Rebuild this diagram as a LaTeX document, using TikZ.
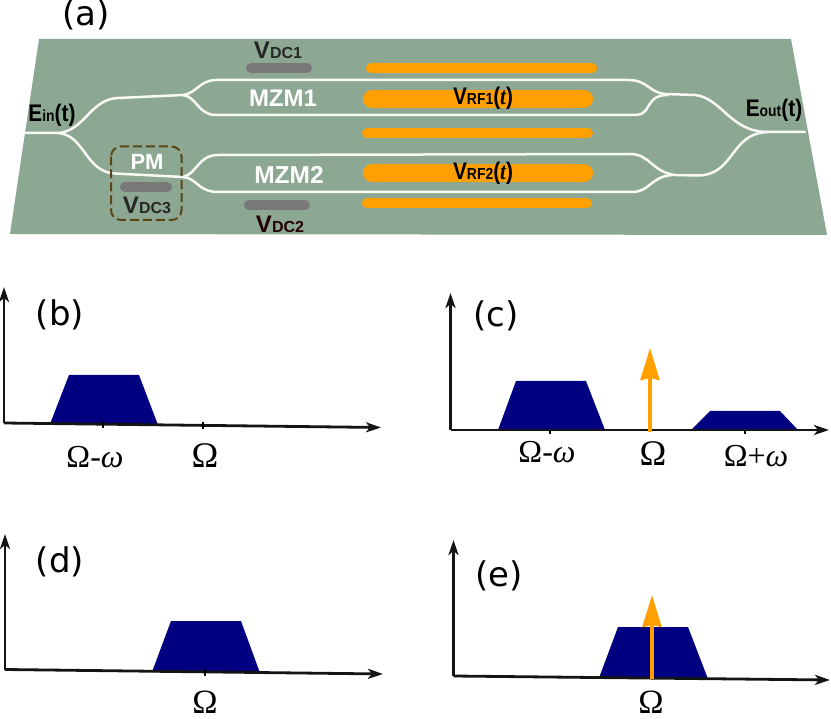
\documentclass[tikz,border=0pt]{standalone}
\usepackage{graphicx}
\usepackage{fontspec}
\setmainfont{Liberation Sans}
\newfontfamily\djv{DejaVu Sans}
\newfontfamily\tms{Liberation Serif}
\usetikzlibrary{arrows.meta}
\definecolor{chip}{RGB}{140,168,147}
\definecolor{rf}{RGB}{255,160,0}
\definecolor{dc}{RGB}{120,120,120}
\definecolor{spec}{RGB}{0,0,128}
\definecolor{pmb}{RGB}{90,70,20}
\definecolor{guide}{RGB}{248,248,244}
\tikzset{
  lab/.style={inner sep=0pt,font=\fontsize{34}{34}\djv},
  wg/.style={draw=guide,line width=2.5pt,line cap=round,line join=round},
  rfbar/.style={draw=rf,line cap=round},
  dcbar/.style={draw=dc,line cap=round,line width=10pt},
  axis/.style={draw=black!92,line width=2.8pt,-{Stealth[length=15pt,width=10pt,inset=4pt]}},
  tickm/.style={draw=black,line width=2.8pt},
  band/.style={fill=spec,draw=none},
  tone/.style={draw=rf,line width=3.7pt,-{Stealth[length=32pt,width=19pt,inset=2pt]}},
  om/.style={inner sep=0pt,font=\fontsize{32}{32}\tms},
  omb/.style={inner sep=0pt,font=\fontsize{36}{36}\tms},
  omc/.style={inner sep=0pt,font=\fontsize{34}{34}\tms},
  wlab/.style={inner sep=0pt,text=white,font=\fontsize{24}{24}\bfseries},
  blab/.style={inner sep=0pt,text=black,font=\fontsize{24}{24}\bfseries},
}
\newcommand{\smc}[1]{{\fontsize{16}{16}\selectfont #1}}
\newcommand{\narrow}[1]{\scalebox{0.87}[1]{#1}}
\begin{document}
\begin{tikzpicture}[x=1pt,y=-1pt]
\useasboundingbox (0,0) rectangle (831,719);
% chip
\fill[chip] (39,39) -- (791,39) -- (827,235) -- (10,234) -- cycle;
% panel labels
\node[lab] (la) at (86,15) {(a)};
\node[lab] (lb) at (60,314.5) {(b)};
\node[lab] (lc) at (496,316) {(c)};
\node[lab] (ld) at (60,562) {(d)};
\node[lab] (le) at (499,576) {(e)};
% waveguides
\draw[wg] (25,133) -- (58,133) .. controls (85,131) and (90,99) .. (118,98) -- (183,95)
  .. controls (197,93) and (200,80) .. (216,80) -- (628,80) .. controls (648,80) and (648,92) .. (665,94)
  -- (695,95) .. controls (722,98) and (730,132) .. (768,132) -- (805,132);
\draw[wg] (183,95) .. controls (197,97) and (198,115) .. (216,115) -- (630,115) .. controls (642,115) and (642,114) .. (646,110) .. controls (652,100) and (655,95) .. (668,95);
\draw[wg] (58,133) .. controls (85,135) and (85,172) .. (115,173.5) -- (183,177)
  .. controls (197,174) and (198,155) .. (218,155) -- (630,154) .. controls (650,154) and (652,172) .. (675,175)
  -- (698,175.5) .. controls (735,175) and (730,133) .. (768,132);
\draw[wg] (183,177) .. controls (197,178) and (198,192) .. (218,192) -- (632,192) .. controls (650,192) and (650,177) .. (672,175);
% electrodes
\draw[rfbar,line width=10pt] (371,68.5) -- (592,68.5);
\draw[rfbar,line width=18pt] (372,99) -- (584,99);
\draw[rfbar,line width=10pt] (367,133) -- (588,133);
\draw[rfbar,line width=18pt] (372,173) -- (584,173);
\draw[rfbar,line width=10pt] (367,203.5) -- (587,203.5);
% dc
\draw[dcbar] (251,68) -- (307,68);
\draw[dcbar] (249,205) -- (305,205);
\draw[dcbar] (125,187) -- (167,187);
% PM box
\draw[pmb,line width=2pt,dash pattern=on 9pt off 4pt,rounded corners=10pt] (111,146.5) rectangle (181.5,220);
% text
\node[blab,text=black!85] (vdc1) at (278,50) {V\smc{DC1}};
\node[blab,text=black!85] (vdc3) at (147,205) {V\smc{DC3}};
\node[blab,text=black!85!red] (vdc2) at (280,224) {V\smc{DC2}};
\node[wlab] (mzm1) at (283,98) {MZM1};
\node[wlab,font=\fontsize{24.5}{24.5}\bfseries] (mzm2) at (289,175) {MZM2};
\node[wlab,font=\fontsize{22}{22}\bfseries] (pm) at (147,162) {PM};
\node[blab] (ein) at (52,115) {\narrow{E\smc{in}(t)}};
\node[blab] (eout) at (774,110) {\narrow{E\smc{out}(t)}};
\node[blab] (vrf1) at (483,98) {\narrow{V\smc{RF1}({\tms\itshape t})}};
\node[blab] (vrf2) at (483,173) {\narrow{V\smc{RF2}({\tms\itshape t})}};
% (b)
\fill[band] (50,424) -- (69,375) -- (139,375) -- (158,425) -- cycle;
\coordinate (bo) at (4,423);
\coordinate (bx) at (381,427.5);
\coordinate (by) at (4,287);
\draw[axis] (bo) -- (bx);
\draw[axis] (bo) -- (by);
\draw[tickm] (103,421.5) -- (103,428);
\draw[tickm] (203,422.5) -- (203,429);
\node[om] (b1) at (95,457) {Ω-{\itshape ω}};
\node[omb] (b2) at (205,456) {Ω};
% (c)
\fill[band] (498,430) -- (516,381) -- (586,381) -- (605,430) -- cycle;
\fill[band] (691,430) -- (710,411) -- (780,411) -- (798,430) -- cycle;
\coordinate (co) at (450.5,430);
\coordinate (cx) at (829,430);
\coordinate (cy) at (450.5,293);
\draw[axis] (co) -- (cx);
\draw[axis] (co) -- (cy);
\draw[tickm] (550,430) -- (550,434);
\draw[tickm] (745,430) -- (745,434);
\coordinate (ct) at (650,432);
\coordinate (ch) at (650,348);
\draw[tone] (ct) -- (ch);
\node[om] (c1) at (547,452) {Ω-{\itshape ω}};
\node[omb] (c2) at (653,454) {Ω};
\node[om] (c3) at (756,456) {Ω+{\itshape ω}};
% (d)
\fill[band] (152,672) -- (171,621) -- (241,621) -- (260,673) -- cycle;
\coordinate (do) at (5,669.5);
\coordinate (dx) at (383,674);
\coordinate (dy) at (5,534);
\draw[axis] (do) -- (dx);
\draw[axis] (do) -- (dy);
\draw[tickm] (205,669) -- (205,676);
\node[omc] (d1) at (205,702) {Ω};
% (e)
\fill[band] (599,678) -- (618,627) -- (688,627) -- (708,679) -- cycle;
\coordinate (eo) at (453.5,676);
\coordinate (ex) at (830,680);
\coordinate (ey) at (453.5,540);
\draw[axis] (eo) -- (ex);
\draw[axis] (eo) -- (ey);
\coordinate (et) at (652,679);
\coordinate (eh) at (652,595);
\draw[tone] (et) -- (eh);
\node[omc] (e1) at (651,702) {Ω};
\end{tikzpicture}
\end{document}
